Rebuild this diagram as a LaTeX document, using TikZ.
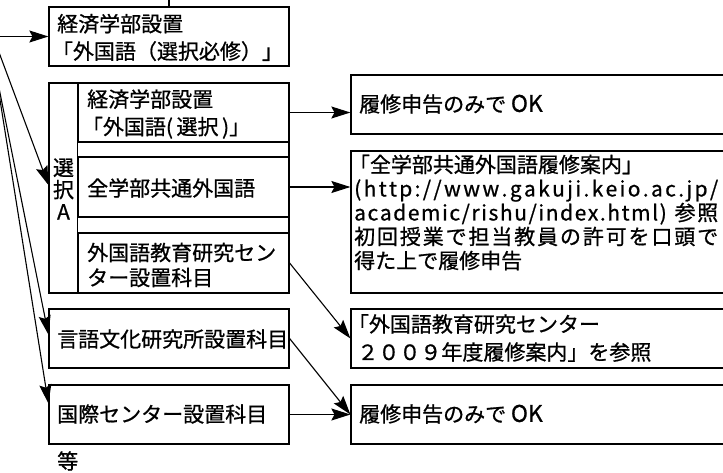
\documentclass[tikz,border=0pt]{standalone}
\usepackage{fontspec}
\setmainfont{Noto Sans CJK JP}[RawFeature={embolden=0.8}]
\usetikzlibrary{arrows.meta}
\makeatletter
\def\spreadline#1#2{\makebox[#1][s]{\spread@first#2\relax}}
\def\spread@first#1{#1\spread@rest}
\def\spread@rest#1{\ifx#1\relax\else\hfil#1\expandafter\spread@rest\fi}
\makeatother
\newcommand{\okword}{{\fontsize{23}{24}\selectfont OK}}
\begin{document}
\begin{tikzpicture}[x=1pt,y=-1pt,
  box/.style={draw, line width=1.2pt, inner sep=0pt},
  txt/.style={inner sep=0pt, anchor=west, align=left, font=\fontsize{21}{24}\selectfont},
  arr/.style={line width=1.1pt, -{Stealth[length=19pt,width=12pt,inset=3pt]}}]
\useasboundingbox (0,0) rectangle (723,472);
% boxes
\node[box, minimum width=240pt, minimum height=59pt] (topbox) at (169,36.5) {};
\node[box, minimum width=240pt, minimum height=210pt] (outer) at (169,188) {};
\node[box, minimum width=211pt, minimum height=59pt] (inner1) at (183.5,112.5) {};
\node[box, minimum width=211pt, minimum height=60pt] (inner2) at (183.5,187) {};
\node[box, minimum width=211pt, minimum height=60pt] (inner3) at (183.5,263) {};
\node[box, minimum width=240pt, minimum height=59pt] (gengo) at (169,338.5) {};
\node[box, minimum width=240pt, minimum height=59pt] (kokusai) at (169,414.5) {};
\node[box, minimum width=379pt, minimum height=59pt] (R1) at (540.5,104.5) {};
\node[box, minimum width=379pt, minimum height=142pt] (R2) at (540.5,222) {};
\node[box, minimum width=379pt, minimum height=59pt] (R3) at (540.5,338.5) {};
\node[box, minimum width=379pt, minimum height=59pt] (R4) at (540.5,414.5) {};
\draw[line width=1.2pt] (inner1.north west) -- (inner3.south west);
\coordinate (topin) at (169,-5);
\draw[line width=1.2pt] (topbox.north) -- (topin);
% texts
\node[txt] (t-top) at (57,37.5) {経済学部設置\\[3.5pt]\hspace*{-0.25em}「外国語（選択必修）」};
\node[txt] (t-in1) at (87,114) {経済学部設置\\[3.5pt]\hspace*{-0.25em}「外国語(\,選択\,)」};
\node[txt] (t-in2) at (87,188) {全学部共通外国語};
\node[txt] (t-in3) at (87,265) {外国語教育研究セン\\[1pt]ター設置科目};
\node[txt, anchor=center, align=center] (t-sel) at (63.5,189) {選\\[-2pt]択\\[-2pt]A};
\node[txt] (t-gengo) at (57,339) {言語文化研究所設置科目};
\node[txt] (t-koku) at (57,414) {国際センター設置科目};
\node[txt] (t-etc) at (57,461) {等};
\node[txt] (t-R1) at (359,104) {履修申告のみで \okword};
\node[txt] (t-R2) at (354,212.5) {\hspace*{-0.25em}「全学部共通外国語履修案内」\\
\spreadline{364pt}{(http://www.gakuji.keio.ac.jp/}\\
\spreadline{364pt}{academic/rishu/index.html)\ 参照}\\
\spreadline{364pt}{初回授業で担当教員の許可を口頭で}\\
得た上で履修申告};
\node[txt] (t-R3) at (353,338) {\hspace*{-0.25em}「外国語教育研究センター\\[4pt]\hspace*{0.2em}２００９年度履修案内」を参照};
\node[txt] (t-R4) at (359,414) {履修申告のみで \okword};
% arrows
\coordinate (s0) at (-5,36.5);
\coordinate (s1) at (-3,47);
\coordinate (s2) at (-3,78);
\coordinate (s3) at (-3,81);
\draw[arr] (s0) -- (topbox.west);
\draw[arr] (s1) -- ([yshift=3pt]outer.west);
\draw[arr] (s2) -- ([yshift=4pt]gengo.west);
\draw[arr] (s3) -- ([yshift=11pt]kokusai.west);
\draw[arr] (inner1.east) -- (inner1.east -| R1.west);
\draw[arr] (inner2.east) -- (inner2.east -| R2.west);
\draw[arr] (inner3.east) -- (R3.west);
\draw[arr] (gengo.east) -- (R4.west);
\draw[arr] (kokusai.east) -- (R4.west);
\end{tikzpicture}
\end{document}
